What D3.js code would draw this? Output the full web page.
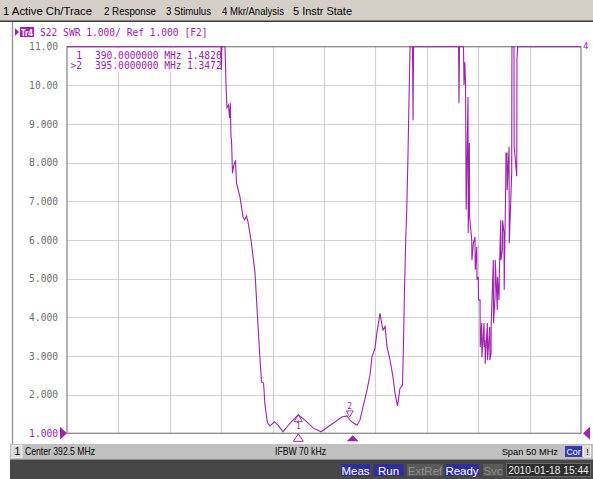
<!DOCTYPE html>
<html><head><meta charset="utf-8">
<script src="https://cdn.jsdelivr.net/npm/d3@7"></script>
<style>
html,body{margin:0;padding:0;background:#fff;overflow:hidden}
svg{display:block}
</style></head>
<body>
<script>
// ---------- data ----------
const menuItems = ["1 Active Ch/Trace","2 Response","3 Stimulus","4 Mkr/Analysis","5 Instr State"];
const yTickValues = [11,10,9,8,7,6,5,4,3,2,1];
const yTickLabels = ["11.00","10.00","9.000","8.000","7.000","6.000","5.000","4.000","3.000","2.000","1.000"];
const freqDomain = [367.5, 417.5];   // Center 392.5 MHz, Span 50 MHz
const swrDomain = [1, 11];
const freqMHz = [367.5,382.48,382.51,382.56,382.87,382.97,383.06,383.21,383.31,383.39,383.45,383.50,383.60,383.70,383.89,383.99,384.33,384.62,384.77,384.96,385.11,385.40,385.79,386.01,386.28,386.42,386.62,386.76,387.00,387.25,387.69,388.03,388.51,389.19,390.00,390.65,391.43,392.21,393.38,394.25,394.74,395.00,395.22,395.71,396.00,396.30,396.65,396.98,397.17,397.46,397.66,397.95,398.11,398.24,398.44,398.63,398.92,399.21,399.41,399.65,399.89,400.14,400.24,400.33,400.45,400.55,400.67,400.77,400.87,401.11,401.16,401.21,405.59,405.63,405.68,406.07,406.12,406.20,406.27,406.33,406.51,406.53,406.64,406.66,406.87,406.89,407.03,407.19,407.21,407.36,407.38,407.51,407.53,407.68,407.70,407.84,407.86,408.07,408.09,408.16,408.18,408.39,408.41,408.62,408.64,408.75,408.77,408.97,408.99,409.14,409.16,409.36,409.38,409.53,409.55,409.69,409.71,409.85,409.87,410.01,410.03,410.18,410.20,410.30,410.32,410.50,410.52,410.76,410.78,410.98,411.00,411.25,411.27,411.34,417.5];
const swr = [11,11,10.40,11,11,10.01,9.42,9.49,9.16,9.54,8.66,8.60,7.73,7.90,8.06,7.47,7.11,6.59,6.52,6.62,6.46,6.00,5.15,4.11,2.90,2.33,2.30,1.73,1.27,1.19,1.30,1.21,1.04,1.26,1.48,1.34,1.14,1.04,1.26,1.42,1.45,1.35,1.29,1.21,1.34,1.69,2.08,2.51,2.98,3.20,3.63,4.10,3.85,3.67,3.76,3.24,2.90,2.46,2.03,1.71,2.16,2.25,3.41,4.71,6.00,6.78,8.20,9.62,11,11,9.10,11,11,9.54,11,11,10.01,10.60,10.00,6.78,9.70,6.18,8.51,6.60,6.00,5.48,5.92,6.08,5.23,5.82,4.97,5.04,4.45,4.45,3.23,3.85,2.97,3.85,3.23,3.41,2.80,3.85,2.89,3.75,2.89,3.08,3.85,5.48,3.85,4.53,5.48,4.19,5.04,4.45,5.04,6.51,5.48,5.74,6.51,6.18,4.71,7.55,8.25,8.25,7.29,8.41,5.92,7.73,11,11,8.41,7.65,10.66,11,11];
const markerIds = ["1","2"];
const markerFreq = [390.0, 395.0];
const markerSwr = [1.4820, 1.3472];
const markerReadFreq = ["390.0000000 MHz","395.0000000 MHz"];
const markerReadVal = ["1.4820","1.3472"];
const statusButtons = ["Meas","Run","ExtRef","Ready","Svc"];
const statusEnabled = [true,true,false,true,false];

// ---------- drawing ----------
const W = 593, H = 479;
const MAG = "#a020b0";
const svg = d3.select("body").append("svg").attr("width", W).attr("height", H);

// menu bar
svg.append("rect").attr("x",0).attr("y",0).attr("width",W).attr("height",20).attr("fill","#d4d0c8");
svg.append("line").attr("x1",0).attr("x2",W).attr("y1",20.5).attr("y2",20.5).attr("stroke","#808080");
svg.append("line").attr("x1",0).attr("x2",W).attr("y1",21.5).attr("y2",21.5).attr("stroke","#404040");
const menuX = [3,104,166,222,293], menuW = [89,52,45,62,59];
svg.selectAll("text.menu").data(menuItems).enter().append("text")
  .attr("x",(d,i)=>menuX[i]).attr("y",15).attr("textLength",(d,i)=>menuW[i]).attr("lengthAdjust","spacingAndGlyphs")
  .attr("font-family","Liberation Sans, Arial, sans-serif").attr("font-size",11).attr("fill","#000").text(d=>d);

// left frame line
svg.append("line").attr("x1",12.5).attr("x2",12.5).attr("y1",22).attr("y2",444).attr("stroke","#9a9a9a").attr("stroke-width",1.5);

// scales
const x = d3.scaleLinear().domain(freqDomain).range([67, 581]);
const y = d3.scaleLinear().domain(swrDomain).range([433.3, 46.7]);

// grid
const xGrid = d3.range(0, 11).map(i => freqDomain[0] + i * (freqDomain[1]-freqDomain[0]) / 10);
svg.append("g").selectAll("line").data(xGrid.slice(1,10)).enter().append("line")
  .attr("x1",d=>Math.round(x(d))+0.5).attr("x2",d=>Math.round(x(d))+0.5)
  .attr("y1",y(11)).attr("y2",y(1)).attr("stroke","#d2d2d2").attr("stroke-width",1.2);
svg.append("g").selectAll("line").data(yTickValues.slice(1,10)).enter().append("line")
  .attr("x1",x(freqDomain[0])).attr("x2",x(freqDomain[1]))
  .attr("y1",d=>Math.round(y(d))+0.5).attr("y2",d=>Math.round(y(d))+0.5).attr("stroke","#d2d2d2").attr("stroke-width",1.2);

// frame
svg.append("rect").attr("x",x(freqDomain[0])).attr("y",y(11)).attr("width",x(freqDomain[1])-x(freqDomain[0]))
  .attr("height",y(1)-y(11)).attr("fill","none").attr("stroke","#8a8a8a").attr("stroke-width",1.3);

// y labels
const yAxis = d3.axisLeft(y).tickValues(yTickValues).tickSize(0).tickPadding(9)
  .tickFormat((d,i)=>yTickLabels[i]);
const gy = svg.append("g").attr("transform",`translate(${x(freqDomain[0])},0)`).call(yAxis);
gy.select(".domain").remove();
gy.selectAll("text").attr("font-family","DejaVu Sans Mono, monospace").attr("font-size",9.6)
  .attr("fill",(d)=>d===1?MAG:"#707070").attr("dy","0.32em");

// reference triangles
svg.append("path").attr("d",`M60,${y(1)-6.5} L67,${y(1)} L60,${y(1)+6.5} Z`).attr("fill",MAG);
svg.append("path").attr("d",`M590,${y(1)-6.5} L583,${y(1)} L590,${y(1)+6.5} Z`).attr("fill",MAG);
svg.append("text").attr("x",583).attr("y",49).attr("font-family","DejaVu Sans Mono, monospace")
  .attr("font-size",9).attr("fill",MAG).text("4");

// trace
const clipY = v => Math.min(v, swrDomain[1]);
const line = d3.line().x(d=>x(d[0])).y(d=>y(clipY(d[1])));
const pts = freqMHz.map((f,i)=>[f, swr[i]]);
svg.append("path").datum(pts).attr("d",line).attr("fill","none").attr("stroke",MAG).attr("stroke-width",1.1);

// marker readout box
svg.append("rect").attr("x",68).attr("y",48).attr("width",152).attr("height",24).attr("fill","#fff");
const mono = "DejaVu Sans Mono, monospace";
markerIds.forEach((id,i)=>{
  const by = 58.5 + i*10.5;
  svg.append("text").attr("x",82).attr("y",by).attr("text-anchor","end").attr("font-family",mono)
    .attr("font-size",9.6).attr("fill",MAG).text(i===1?">"+id:id);
  svg.append("text").attr("x",95).attr("y",by).attr("font-family",mono)
    .attr("font-size",9.6).attr("fill",MAG).text(markerReadFreq[i]);
  svg.append("text").attr("x",187).attr("y",by).attr("font-family",mono)
    .attr("font-size",9.6).attr("fill",MAG).text(markerReadVal[i]);
});

// markers on trace
{
  const mx = x(markerFreq[0]), my = y(markerSwr[0]);
  svg.append("path").attr("d",`M${mx},${my} L${mx+4},${my+7} L${mx-4},${my+7} Z`).attr("fill","none").attr("stroke",MAG).attr("stroke-width",0.9);
  svg.append("text").attr("x",mx).attr("y",my+14).attr("text-anchor","middle").attr("font-family",mono).attr("font-size",8).attr("fill",MAG).text(markerIds[0]);
  const nx = x(markerFreq[1]), ny = y(markerSwr[1]) - 3;
  svg.append("path").attr("d",`M${nx},${ny} L${nx+3.5},${ny-6} L${nx-3.5},${ny-6} Z`).attr("fill","none").attr("stroke",MAG).attr("stroke-width",0.9);
  svg.append("text").attr("x",nx).attr("y",ny-8).attr("text-anchor","middle").attr("font-family",mono).attr("font-size",8).attr("fill",MAG).text(markerIds[1]);
  // axis markers
  svg.append("path").attr("d",`M${mx},${y(1)+0.5} L${mx+5},${y(1)+8} L${mx-5},${y(1)+8} Z`).attr("fill","#fff").attr("stroke",MAG).attr("stroke-width",1);
  svg.append("path").attr("d",`M${nx+3},${y(1)+2} L${nx+9},${y(1)+8} L${nx-3},${y(1)+8} Z`).attr("fill",MAG);
}

// title row
svg.append("path").attr("d","M15,28 L19,32 L15,36 Z").attr("fill",MAG);
svg.append("rect").attr("x",20).attr("y",27).attr("width",14).attr("height",10).attr("fill",MAG);
svg.append("text").attr("x",21).attr("y",35.5).attr("font-family","DejaVu Sans, sans-serif").attr("font-weight","bold")
  .attr("font-size",8.5).attr("fill","#fff").attr("textLength",12).attr("lengthAdjust","spacingAndGlyphs").text("Tr4");
svg.append("text").attr("x",40).attr("y",36).attr("font-family",mono).attr("font-size",9.6).attr("fill",MAG)
  .text("S22 SWR 1.000/ Ref 1.000 [F2]");

// bottom info bar
const sans = "Liberation Sans, Arial, sans-serif";
svg.append("rect").attr("x",10).attr("y",444).attr("width",W-10).attr("height",15).attr("fill","#c0c0c0");
svg.append("rect").attr("x",12).attr("y",445.5).attr("width",10).attr("height",12).attr("fill","#d8d8d8").attr("stroke","#f0f0f0");
svg.append("text").attr("x",14.5).attr("y",455).attr("font-family",sans).attr("font-size",10.5).text("1");
svg.append("text").attr("x",25).attr("y",455).attr("font-family",sans).attr("font-size",10.5)
  .attr("textLength",70).attr("lengthAdjust","spacingAndGlyphs").text("Center 392.5 MHz");
svg.append("text").attr("x",275).attr("y",455).attr("font-family",sans).attr("font-size",10.5)
  .attr("textLength",51).attr("lengthAdjust","spacingAndGlyphs").text("IFBW 70 kHz");
svg.append("text").attr("x",558).attr("y",455).attr("text-anchor","end").attr("font-family",sans).attr("font-size",9.3)
  .text("Span 50 MHz");
svg.append("rect").attr("x",565).attr("y",446).attr("width",17).attr("height",11).attr("fill","#3a3aa8");
svg.append("text").attr("x",573.5).attr("y",455).attr("text-anchor","middle").attr("font-family",sans).attr("font-size",8.8).attr("fill","#fff")
  .text("Cor");
svg.append("rect").attr("x",583.5).attr("y",446).attr("width",7).attr("height",11).attr("fill","#d8d8d8").attr("stroke","#f4f4f4");
svg.append("text").attr("x",587.5).attr("y",455).attr("text-anchor","middle").attr("font-family",sans).attr("font-size",9).text("!");

// bottom status bar
svg.append("rect").attr("x",10).attr("y",460).attr("width",W-10).attr("height",19).attr("fill","#474747");
svg.append("line").attr("x1",10).attr("x2",W).attr("y1",459.5).attr("y2",459.5).attr("stroke","#8c8c8c");
const btnX = [341,373.5,407,445,483], btnW = [29,30,36,34,20];
statusButtons.forEach((b,i)=>{
  svg.append("rect").attr("x",btnX[i]).attr("y",464).attr("width",btnW[i]).attr("height",12)
    .attr("fill",statusEnabled[i]?"#2f2f9c":"#5a5a5a");
  svg.append("text").attr("x",btnX[i]+btnW[i]/2).attr("y",474.5).attr("text-anchor","middle")
    .attr("font-family",sans).attr("font-size",11.5).attr("fill",statusEnabled[i]?"#ffffff":"#8e8e8e").text(b);
});
svg.append("rect").attr("x",506.5).attr("y",463.5).attr("width",84).attr("height",13).attr("fill","#2e2e2e").attr("stroke","#6a6a6a");
svg.append("text").attr("x",548.5).attr("y",474).attr("text-anchor","middle").attr("font-family",sans)
  .attr("font-size",10.2).attr("fill","#ececec").text("2010-01-18 15:44");
</script>
</body></html>
